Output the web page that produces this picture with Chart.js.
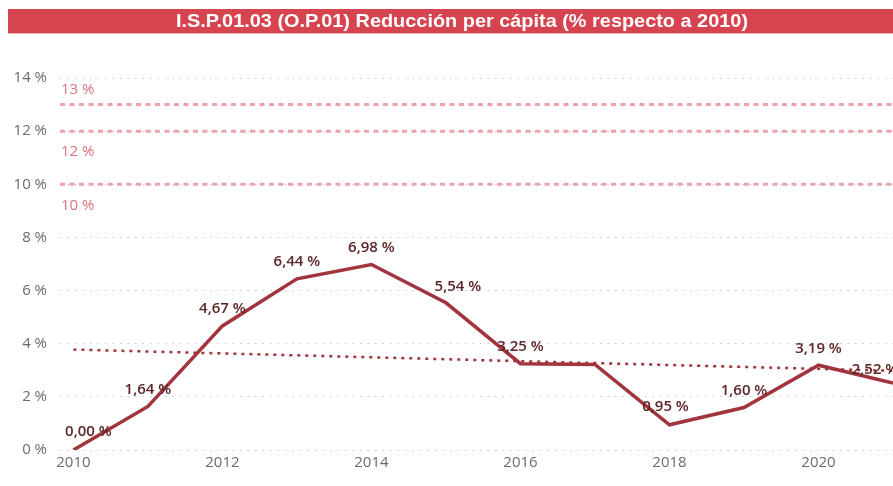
<!DOCTYPE html>
<html>
<head>
<meta charset="utf-8">
<script src="https://cdn.jsdelivr.net/npm/chart.js@4.4.1/dist/chart.umd.min.js"></script>
<style>
  html, body { margin: 0; padding: 0; background: #fff; }
  #wrap { width: 893px; height: 486px; position: relative; }
</style>
</head>
<body>
<div id="wrap"><canvas id="c" width="893" height="486"></canvas></div>
<script>
const titleText = 'I.S.P.01.03 (O.P.01) Reducción per cápita (% respecto a 2010)';
const years = [2010, 2011, 2012, 2013, 2014, 2015, 2016, 2017, 2018, 2019, 2020, 2021];
const values = [0.00, 1.64, 4.67, 6.44, 6.98, 5.54, 3.25, 3.22, 0.95, 1.60, 3.19, 2.52];
const labelShown = [true, true, true, true, true, true, true, false, true, true, true, true];
const trendYears = [2010, 2021];
const trendValues = [3.78, 2.98];
const refValues = [13, 12, 10];
const refLabels = ['13 %', '12 %', '10 %'];
const xTickLabels = [2010, 2012, 2014, 2016, 2018, 2020];
const yTickValues = [0, 2, 4, 6, 8, 10, 12, 14];

const LINE_COLOR = '#a1343c';
const LABEL_COLOR = '#5c2526';
const REF_COLOR = '#eea3ab';
const REF_TEXT = '#e0707c';

function fmt(v) { return v.toFixed(2).replace('.', ',') + ' %'; }

const titlePlugin = {
  id: 'titleBar',
  beforeDraw(chart) {
    const ctx = chart.ctx;
    ctx.save();
    ctx.fillStyle = '#d6444f';
    ctx.fillRect(8, 9, 893 - 8, 24);
    ctx.fillStyle = '#f0b5ba';
    ctx.fillRect(8, 33, 893 - 8, 1);
    ctx.font = 'bold 19px "Liberation Sans Narrow", "Liberation Sans", sans-serif';
    ctx.fillStyle = '#ffffff';
    ctx.textBaseline = 'middle';
    ctx.textAlign = 'center';
    const w = ctx.measureText(titleText).width;
    const target = 572;
    const sx = target / w;
    ctx.translate(462, 22);
    ctx.scale(sx, 1);
    ctx.fillText(titleText, 0, 0);
    ctx.restore();
  }
};

const refPlugin = {
  id: 'refLines',
  beforeDatasetsDraw(chart) {
    const ctx = chart.ctx;
    const ys = chart.scales.y;
    const area = chart.chartArea;
    ctx.save();
    refValues.forEach((v, i) => {
      const y = ys.getPixelForValue(v);
      ctx.strokeStyle = REF_COLOR;
      ctx.lineWidth = 3;
      ctx.setLineDash([5, 4.5]);
      ctx.beginPath();
      ctx.moveTo(area.left, y);
      ctx.lineTo(area.right, y);
      ctx.stroke();
      ctx.setLineDash([]);
      ctx.fillStyle = REF_TEXT;
      ctx.font = '15px "Open Sans", sans-serif';
      ctx.textAlign = 'left';
      ctx.textBaseline = 'middle';
      const dy = i === 0 ? -15 : 21;
      ctx.fillText(refLabels[i], area.left + 1, y + dy);
    });
    ctx.restore();
  }
};

const labelOffsets = { 0: [15, -18], 5: [12, -16], 8: [-4, -18], 11: [-18, -13] };

const dataLabelPlugin = {
  id: 'dataLabels',
  afterDatasetsDraw(chart) {
    const ctx = chart.ctx;
    const meta = chart.getDatasetMeta(0);
    ctx.save();
    ctx.font = '600 15px "Open Sans", sans-serif';
    ctx.fillStyle = LABEL_COLOR;
    ctx.textAlign = 'center';
    ctx.textBaseline = 'middle';
    meta.data.forEach((pt, i) => {
      if (!labelShown[i]) return;
      const off = labelOffsets[i] || [0, -17];
      ctx.fillText(fmt(values[i]), pt.x + off[0], pt.y + off[1]);
    });
    ctx.restore();
  }
};

new Chart(document.getElementById('c'), {
  type: 'line',
  data: {
    datasets: [
      {
        data: years.map((y, i) => ({ x: y, y: values[i] })),
        borderColor: LINE_COLOR,
        borderWidth: 3.5,
        pointRadius: 0,
        tension: 0,
        order: 1
      },
      {
        data: trendYears.map((y, i) => ({ x: y, y: trendValues[i] })),
        borderColor: LINE_COLOR,
        borderWidth: 2.5,
        borderDash: [3, 5],
        pointRadius: 0,
        tension: 0,
        order: 2
      }
    ]
  },
  plugins: [titlePlugin, refPlugin, dataLabelPlugin],
  options: {
    responsive: false,
    animation: false,
    devicePixelRatio: 1,
    layout: { padding: { top: 78, left: 0, right: 0, bottom: 0 } },
    plugins: { legend: { display: false }, tooltip: { enabled: false }, title: { display: false } },
    scales: {
      x: {
        type: 'linear',
        min: 2009.82,
        max: 2021,
        afterBuildTicks(scale) { scale.ticks = xTickLabels.map(v => ({ value: v })); },
        afterFit(scale) { scale.height = 36; },
        grid: { display: false, drawTicks: false },
        border: { display: false },
        ticks: {
          color: '#6b6b6b',
          font: { family: '"Open Sans", sans-serif', size: 15 },
          padding: 4,
          maxRotation: 0,
          autoSkip: false,
          callback: v => String(v)
        }
      },
      y: {
        min: 0,
        max: 14,
        afterBuildTicks(scale) { scale.ticks = yTickValues.map(v => ({ value: v })); },
        afterFit(scale) { scale.width = 60; },
        grid: { color: '#c9c9c9', lineWidth: 1, drawTicks: false },
        border: { display: false, dash: [1.5, 6] },
        ticks: {
          color: '#6b6b6b',
          font: { family: '"Open Sans", sans-serif', size: 15 },
          padding: 13,
          callback: v => v + ' %'
        }
      }
    }
  }
});
</script>
</body>
</html>
